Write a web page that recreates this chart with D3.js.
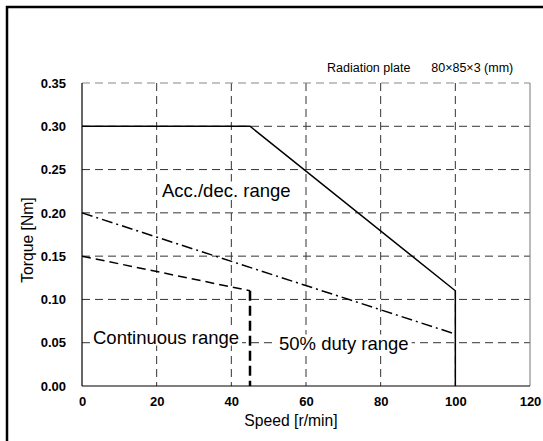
<!DOCTYPE html>
<html><head><meta charset="utf-8">
<script src="https://cdn.jsdelivr.net/npm/d3@7"></script>
<style>body{margin:0;background:#fff}svg text{font-family:"Liberation Sans",Arial,Helvetica,sans-serif}</style>
</head><body>
<svg id="c" width="543" height="441"></svg>
<script>
const xTicks = [0,20,40,60,80,100,120];
const yTicks = [0.00,0.05,0.10,0.15,0.20,0.25,0.30,0.35];
const accSpeed = [0,45,100,100];
const accTorque = [0.30,0.30,0.11,0];
const dutySpeed = [0,100];
const dutyTorque = [0.20,0.06];
const contSpeed = [0,45];
const contTorque = [0.15,0.11];
const contDropSpeed = [45,45];
const contDropTorque = [0.11,0];
const accLabel = "Acc./dec. range";
const contLabel = "Continuous range";
const dutyLabel = "50% duty range";
const noteLabel = "Radiation plate\u00a0\u00a0\u00a0\u00a0\u00a0\u00a080×85×3 (mm)";

const svg = d3.select("#c");
const L=82,R=530,T=83,B=386;
const x = d3.scaleLinear().domain([0,120]).range([L,R]);
const y = d3.scaleLinear().domain([0,0.35]).range([B,T]);

// outer frame
svg.append("rect").attr("x",7).attr("y",7).attr("width",560).attr("height",460)
  .attr("fill","none").attr("stroke","#000").attr("stroke-width",2.5);

// grid
const g = svg.append("g");
g.selectAll(".vg").data(xTicks.filter(d=>d>0&&d<120)).join("line")
  .attr("x1",d=>x(d)).attr("x2",d=>x(d)).attr("y1",T).attr("y2",B)
  .attr("stroke","#333").attr("stroke-width",1).attr("stroke-dasharray","8,5");
g.selectAll(".hg").data(yTicks.filter(d=>d>0&&d<0.35)).join("line")
  .attr("x1",L).attr("x2",R).attr("y1",d=>y(d)).attr("y2",d=>y(d))
  .attr("stroke","#333").attr("stroke-width",1).attr("stroke-dasharray","8,5");
g.append("line").attr("x1",L).attr("x2",R).attr("y1",y(0.35)).attr("y2",y(0.35))
  .attr("stroke","#888").attr("stroke-width",1.2).attr("stroke-dasharray","8,5");
g.append("line").attr("x1",x(120)).attr("x2",x(120)).attr("y1",T).attr("y2",B)
  .attr("stroke","#777").attr("stroke-width",1);

function boxText(txt, cx, cy, size, anchor){
  const t = svg.append("text").attr("x",cx).attr("y",cy).attr("font-size",size)
    .attr("dominant-baseline","central").attr("text-anchor",anchor||"start").text(txt);
  const bb = t.node().getBBox();
  svg.insert("rect", function(){return t.node();})
    .attr("x",bb.x-3).attr("y",bb.y+2).attr("width",bb.width+6).attr("height",bb.height-4).attr("fill","#fff");
  return t;
}

svg.append("line").attr("x1",L).attr("x2",L).attr("y1",T).attr("y2",B).attr("stroke","#000").attr("stroke-width",1.2);
svg.append("line").attr("x1",L).attr("x2",R).attr("y1",B).attr("y2",B).attr("stroke","#000").attr("stroke-width",1.2);

const xAxis = d3.axisBottom(x).tickValues(xTicks).tickSize(0).tickPadding(11).tickFormat(d3.format("d"));
const ax = svg.append("g").attr("transform",`translate(0,${B})`).call(xAxis);
ax.select(".domain").remove();
ax.selectAll("text").attr("font-size",13).attr("font-weight","bold").attr("fill","#000")
  .attr("font-family","'Liberation Sans',Arial,sans-serif");
const yAxis = d3.axisLeft(y).tickValues(yTicks).tickSize(0).tickPadding(16).tickFormat(d3.format(".2f"));
const ay = svg.append("g").attr("transform",`translate(${L},0)`).call(yAxis);
ay.select(".domain").remove();
ay.selectAll("text").attr("font-size",13).attr("font-weight","bold").attr("fill","#000")
  .attr("font-family","'Liberation Sans',Arial,sans-serif");

const line = d3.line().x(d=>x(d[0])).y(d=>y(d[1]));
svg.append("path").datum(d3.zip(dutySpeed,dutyTorque)).attr("d",line)
  .attr("fill","none").attr("stroke","#000").attr("stroke-width",1.5).attr("stroke-dasharray","11,4,2,4");
svg.append("path").datum(d3.zip(contSpeed,contTorque)).attr("d",line)
  .attr("fill","none").attr("stroke","#000").attr("stroke-width",1.5).attr("stroke-dasharray","9,5");
svg.append("path").datum(d3.zip(contDropSpeed,contDropTorque)).attr("d",line)
  .attr("fill","none").attr("stroke","#000").attr("stroke-width",2.5).attr("stroke-dasharray","10,5");
svg.append("path").datum(d3.zip(accSpeed,accTorque)).attr("d",line)
  .attr("fill","none").attr("stroke","#000").attr("stroke-width",1.5);

boxText(accLabel, 162, 190, 18.5);
boxText(contLabel, 93, 337, 18.5);
boxText(dutyLabel, 279, 343, 18.5);
svg.append("text").attr("x",327).attr("y",68).attr("font-size",12.5).attr("dominant-baseline","central").text(noteLabel);

svg.append("text").attr("x",291).attr("y",420).attr("font-size",15.7).attr("text-anchor","middle")
  .attr("dominant-baseline","central").text("Speed [r/min]");
svg.append("text").attr("transform","translate(27,240) rotate(-90)").attr("font-size",15.7).attr("text-anchor","middle")
  .attr("dominant-baseline","central").text("Torque [Nm]");
</script>
</body></html>
